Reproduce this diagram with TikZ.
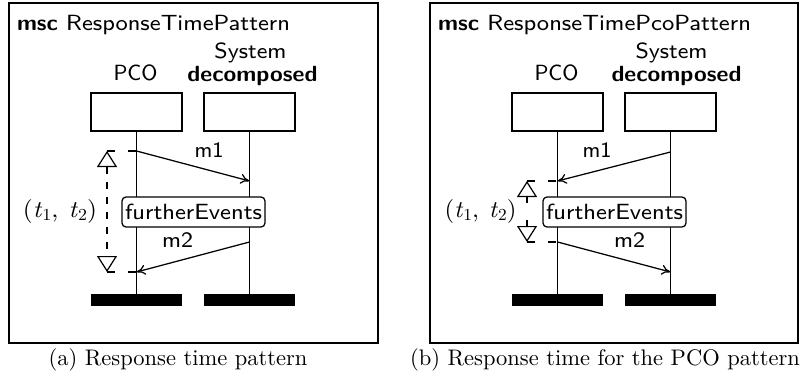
\documentclass[tikz,border=0pt]{standalone}
\usepackage{graphicx}
\usepackage{fontspec}
\setmainfont{lmroman10-regular}[Extension=.otf, ItalicFont=lmroman10-italic]
\usetikzlibrary{arrows.meta}
\newfontfamily\diagsf{lmsans8-regular}[Extension=.otf]
\newfontfamily\diagbf{lmsans10-bold}[Extension=.otf]
\newcommand\tsubx[1]{\textit{t}\raisebox{-0.16em}{\fontsize{16.8}{18}\selectfont #1}}
\newcommand\fitwd[2]{\resizebox{#1}{\height}{#2}}
\tikzset{
  every node/.style={inner sep=0pt, outer sep=0pt},
  dtext/.style={font=\diagsf\fontsize{22}{26}\selectfont},
  mframe/.style={draw, line width=1.5pt},
  headbox/.style={draw, line width=1.35pt, minimum width=91pt, minimum height=38pt},
  endbar/.style={fill=black, minimum width=91pt, minimum height=12pt},
  life/.style={line width=1.35pt},
  msg/.style={line width=1.25pt, -{To[length=9pt,width=10pt]}},
  evbox/.style={draw, fill=white, rounded corners=4pt, line width=1.25pt, minimum width=143pt, minimum height=30pt, dtext},
  tcline/.style={line width=1.2pt, {Triangle[open,length=16pt,width=20pt]}-{Triangle[open,length=16pt,width=20pt]}},
  tctick/.style={line width=1.2pt, dash pattern=on 8pt off 13pt},
  tlabel/.style={font=\fontsize{24}{28}\selectfont},
  capt/.style={font=\fontsize{22.5}{26}\selectfont, anchor=base},
}
\begin{document}
\begin{tikzpicture}[x=1pt, y=-1pt]
\useasboundingbox (0,0) rectangle (809,383);
% ---------------- panel (a)
\begin{scope}
  \draw[mframe] (9,3) rectangle (378,343);
  \node[dtext, anchor=base west] (aTitle) at (17,30) {\fitwd{273pt}{{\diagbf msc} ResponseTimePattern}};
  \node[dtext, anchor=base] (aPCOl) at (135.5,80) {\fitwd{44pt}{PCO}};
  \node[dtext, anchor=base] (aSysl) at (250.5,58) {\fitwd{72pt}{System}};
  \node[dtext, anchor=base] (aDecl) at (252.5,81) {\fitwd{130pt}{\diagbf decomposed}};
  \node[headbox] (aPCO) at (136.5,112) {};
  \node[headbox] (aSys) at (249.5,112) {};
  \node[endbar] (aPCOe) at (136.5,300) {};
  \node[endbar] (aSyse) at (249.5,300) {};
  \draw[life] (aPCO.south) -- (aPCOe.north);
  \draw[life] (aSys.south) -- (aSyse.north);
  \coordinate (am1s) at (136.5,151);
  \coordinate (am1e) at (249.5,181);
  \coordinate (am2s) at (249.5,242);
  \coordinate (am2e) at (136.5,272);
  \draw[msg] (am1s) -- (am1e);
  \draw[msg] (am2s) -- (am2e);
  \node[dtext, anchor=base] (am1l) at (209,157) {\fitwd{29pt}{m1}};
  \node[dtext, anchor=base] (am2l) at (177.5,247) {\fitwd{31pt}{m2}};
  \node[evbox] (aEv) at (193.5,212) {\fitwd{137pt}{furtherEvents}};
  \coordinate (atcT) at (107,151);
  \coordinate (atcB) at (107,272);
  \draw[tcline, dash pattern=on 7pt off 8pt] (atcT) -- (atcB);
  \draw[tctick] (atcT) -- (am1s);
  \draw[tctick] (atcB) -- (am2e);
  \node[tlabel] (atl) at (60,211) {\fitwd{74pt}{(\tsubx{1},\hspace{0.4em}\tsubx{2})}};
\end{scope}
% ---------------- panel (b)
\begin{scope}[xshift=421pt]
  \draw[mframe] (9,3) rectangle (377,343);
  \node[dtext, anchor=base west] (bTitle) at (17,30) {\fitwd{313pt}{{\diagbf msc} ResponseTimePcoPattern}};
  \node[dtext, anchor=base] (bPCOl) at (135.5,80) {\fitwd{44pt}{PCO}};
  \node[dtext, anchor=base] (bSysl) at (250.5,58) {\fitwd{72pt}{System}};
  \node[dtext, anchor=base] (bDecl) at (255.5,81) {\fitwd{130pt}{\diagbf decomposed}};
  \node[headbox] (bPCO) at (136.5,112) {};
  \node[headbox] (bSys) at (249.5,112) {};
  \node[endbar] (bPCOe) at (136.5,300) {};
  \node[endbar] (bSyse) at (249.5,300) {};
  \draw[life] (bPCO.south) -- (bPCOe.north);
  \draw[life] (bSys.south) -- (bSyse.north);
  \coordinate (bm1s) at (249.5,152);
  \coordinate (bm1e) at (136.5,181);
  \coordinate (bm2s) at (136.5,242);
  \coordinate (bm2e) at (249.5,272);
  \draw[msg] (bm1s) -- (bm1e);
  \draw[msg] (bm2s) -- (bm2e);
  \node[dtext, anchor=base] (bm1l) at (176,157) {\fitwd{29pt}{m1}};
  \node[dtext, anchor=base] (bm2l) at (208.5,247) {\fitwd{31pt}{m2}};
  \node[evbox] (bEv) at (193.5,212) {\fitwd{137pt}{furtherEvents}};
  \coordinate (btcT) at (106,181);
  \coordinate (btcB) at (106,242);
  \draw[tcline, dash pattern=on 6pt off 17pt] (btcT) -- (btcB);
  \draw[tctick] (btcT) -- (bm1e);
  \draw[tctick] (btcB) -- (bm2s);
  \node[tlabel] (btl) at (59.5,211) {\fitwd{72pt}{(\tsubx{1},\hspace{0.4em}\tsubx{2})}};
\end{scope}
% ---------------- captions
\node[capt] (capa) at (178,365) {(a) Response time pattern};
\node[capt] (capb) at (605,365) {(b) Response time for the PCO pattern};
\end{tikzpicture}
\end{document}
